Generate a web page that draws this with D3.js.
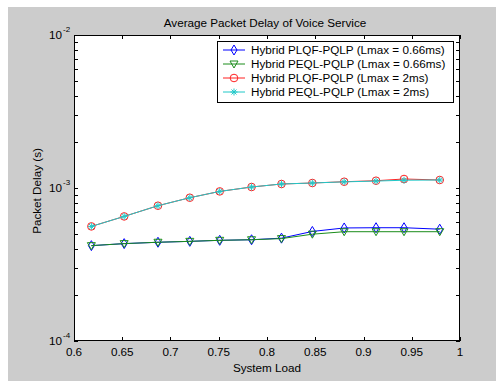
<!DOCTYPE html>
<html>
<head>
<meta charset="utf-8">
<script src="https://cdn.jsdelivr.net/npm/d3@7"></script>
<style>
  body { margin: 0; background: #fff; }
  svg text { font-family: "Liberation Sans", Arial, sans-serif; fill: #000; }
</style>
</head>
<body>
<svg id="chart" width="496" height="381"></svg>
<script>
// data
const load = [0.618, 0.652, 0.687, 0.720, 0.751, 0.784, 0.815, 0.847, 0.880, 0.913, 0.942, 0.979];
const plqf066 = [4.20e-4, 4.33e-4, 4.42e-4, 4.48e-4, 4.55e-4, 4.59e-4, 4.70e-4, 5.20e-4, 5.48e-4, 5.50e-4, 5.50e-4, 5.38e-4];
const peql066 = [4.20e-4, 4.33e-4, 4.42e-4, 4.48e-4, 4.55e-4, 4.59e-4, 4.67e-4, 4.99e-4, 5.18e-4, 5.18e-4, 5.18e-4, 5.18e-4];
const plqf2   = [5.61e-4, 6.52e-4, 7.66e-4, 8.64e-4, 9.50e-4, 1.015e-3, 1.062e-3, 1.078e-3, 1.099e-3, 1.116e-3, 1.145e-3, 1.128e-3];
const peql2   = [5.61e-4, 6.52e-4, 7.66e-4, 8.64e-4, 9.50e-4, 1.015e-3, 1.062e-3, 1.078e-3, 1.097e-3, 1.110e-3, 1.124e-3, 1.128e-3];
const xTicks = [0.6, 0.65, 0.7, 0.75, 0.8, 0.85, 0.9, 0.95, 1];
const yDecades = [-4, -3, -2];

const series = [
  { name: "Hybrid PLQF-PQLP (Lmax = 0.66ms)", values: plqf066, color: "#0000ff", marker: "diamond" },
  { name: "Hybrid PEQL-PQLP (Lmax = 0.66ms)", values: peql066, color: "#1a8c1a", marker: "triangle" },
  { name: "Hybrid PLQF-PQLP (Lmax = 2ms)",    values: plqf2,   color: "#ff2020", marker: "circle" },
  { name: "Hybrid PEQL-PQLP (Lmax = 2ms)",    values: peql2,   color: "#20c8c8", marker: "star" }
];

const fs = 11.7;
const svg = d3.select("#chart");
const plot = { left: 74, top: 35, right: 460, bottom: 341 };

// figure background
svg.append("rect").attr("x", 8).attr("y", 7).attr("width", 488).attr("height", 374).attr("fill", "#cccccc");

const x = d3.scaleLinear().domain([0.6, 1]).range([plot.left, plot.right]);
const y = d3.scaleLog().domain([1e-4, 1e-2]).range([plot.bottom, plot.top]);

svg.append("rect")
  .attr("x", plot.left).attr("y", plot.top)
  .attr("width", plot.right - plot.left).attr("height", plot.bottom - plot.top)
  .attr("fill", "#fff");

// ticks, drawn inward on all four sides (matlab box style)
const tl = 4;
const tickG = svg.append("g").attr("stroke", "#000").attr("stroke-width", 1);
xTicks.forEach(v => {
  const px = Math.round(x(v)) + 0.5;
  tickG.append("line").attr("x1", px).attr("x2", px).attr("y1", plot.bottom).attr("y2", plot.bottom - tl);
  tickG.append("line").attr("x1", px).attr("x2", px).attr("y1", plot.top).attr("y2", plot.top + tl);
});
const yMinor = [];
for (let e = -4; e < -2; e++) for (let m = 1; m < 10; m++) yMinor.push(m * Math.pow(10, e));
yMinor.push(1e-2);
yMinor.forEach(v => {
  const py = Math.round(y(v)) + 0.5;
  tickG.append("line").attr("x1", plot.left).attr("x2", plot.left + tl).attr("y1", py).attr("y2", py);
  tickG.append("line").attr("x1", plot.right).attr("x2", plot.right - tl).attr("y1", py).attr("y2", py);
});

// plot box
svg.append("rect")
  .attr("x", plot.left + 0.5).attr("y", plot.top + 0.5)
  .attr("width", plot.right - plot.left - 1).attr("height", plot.bottom - plot.top - 1)
  .attr("fill", "none").attr("stroke", "#000");

// x tick labels
svg.append("g").selectAll("text").data(xTicks).join("text")
  .attr("x", d => x(d)).attr("y", 356)
  .attr("text-anchor", "middle").attr("font-size", fs)
  .text(d => d3.format("")(d));

// y tick labels 10^e
const yl = svg.append("g").selectAll("g").data(yDecades).join("g");
yl.append("text")
  .attr("x", 62).attr("y", d => y(Math.pow(10, d)) + 4)
  .attr("text-anchor", "end").attr("font-size", fs).text("10");
yl.append("text")
  .attr("x", 63).attr("y", d => y(Math.pow(10, d)) - 3)
  .attr("font-size", 8).text(d => d);

// titles
svg.append("text").attr("x", 265).attr("y", 27)
  .attr("text-anchor", "middle").attr("font-size", fs).text("Average Packet Delay of Voice Service");
svg.append("text").attr("x", (plot.left + plot.right) / 2).attr("y", 372)
  .attr("text-anchor", "middle").attr("font-size", fs).text("System Load");
svg.append("text").attr("transform", "translate(41,191) rotate(-90)")
  .attr("text-anchor", "middle").attr("font-size", fs).text("Packet Delay (s)");

function drawMarker(g, kind, color) {
  g.attr("fill", "none").attr("stroke", color).attr("stroke-width", 1);
  if (kind === "diamond") g.append("path").attr("d", "M0,-5L3,0L0,5L-3,0Z");
  else if (kind === "triangle") g.append("path").attr("d", "M-4,-3L4,-3L0,4Z");
  else if (kind === "circle") g.append("circle").attr("r", 3.8);
  else if (kind === "star") g.append("path").attr("d", "M-3.5,0H3.5M0,-3.5V3.5M-2.5,-2.5L2.5,2.5M-2.5,2.5L2.5,-2.5");
}

const line = d3.line().x(d => x(d[0])).y(d => y(d[1]));
series.forEach(s => {
  const pts = load.map((l, i) => [l, s.values[i]]);
  const g = svg.append("g");
  g.append("path").datum(pts).attr("d", line)
    .attr("fill", "none").attr("stroke", s.color).attr("stroke-width", 1);
  pts.forEach(p => {
    drawMarker(g.append("g").attr("transform", `translate(${x(p[0])},${y(p[1])})`), s.marker, s.color);
  });
});

// legend
const lg = svg.append("g");
lg.append("rect").attr("x", 217.5).attr("y", 41.5).attr("width", 236).attr("height", 61)
  .attr("fill", "#fff").attr("stroke", "#000");
series.forEach((s, i) => {
  const ly = 50 + i * 14;
  lg.append("line").attr("x1", 223).attr("x2", 245).attr("y1", ly).attr("y2", ly)
    .attr("stroke", s.color);
  drawMarker(lg.append("g").attr("transform", `translate(234,${ly})`), s.marker, s.color);
  lg.append("text").attr("x", 251).attr("y", ly + 4).attr("font-size", fs).text(s.name);
});
</script>
</body>
</html>
